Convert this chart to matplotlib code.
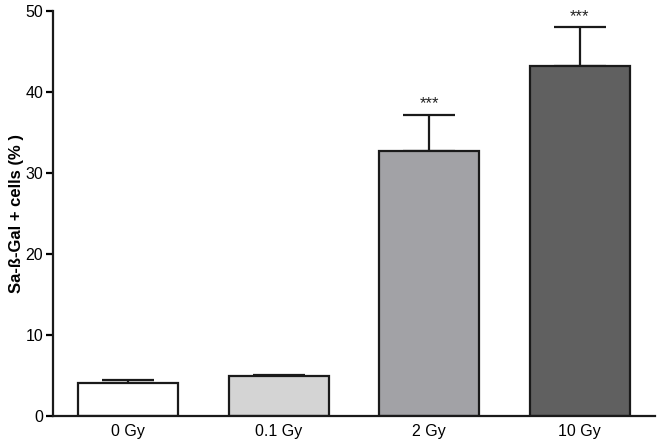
import matplotlib
matplotlib.use("Agg")
import matplotlib.pyplot as plt

categories = ["0 Gy", "0.1 Gy", "2 Gy", "10 Gy"]
values = [4.05, 4.9, 32.7, 43.2]
errors = [0.45, 0.2, 4.5, 4.8]
colors = ["#ffffff", "#d4d4d4", "#a2a2a6", "#606060"]
stars = ["", "", "***", "***"]

plt.rcParams['font.family'] = ['Liberation Sans', 'DejaVu Sans']

fig = plt.figure(figsize=(6.64, 4.46), dpi=100)
ax = fig.add_axes([53/664, 1-416/446, (655-53)/664, (416-11)/446])

x = range(len(categories))
ax.bar(x, values, width=0.667, color=colors, edgecolor="#1a1a1a", linewidth=1.6, zorder=2)
ax.errorbar(x, values, yerr=[[0]*len(errors), errors], fmt="none", ecolor="#1a1a1a",
            elinewidth=1.6, capsize=18.5, capthick=1.6, zorder=1)
for xi, v, e, s in zip(x, values, errors, stars):
    if s:
        ax.text(xi, v + e + 1.35, s, ha="center", va="center", fontsize=12,
                color="#222222")

ax.set_xlim(-0.5, 3.5)
ax.set_ylim(0, 50)
ax.set_yticks([0, 10, 20, 30, 40, 50])
ax.set_xticks(list(x))
ax.set_xticklabels(categories)
ax.tick_params(axis="x", length=0, labelsize=11.5, pad=6)
ax.tick_params(axis="y", length=5, width=1.6, labelsize=11.5, pad=2)
for sp in ["top", "right"]:
    ax.spines[sp].set_visible(False)
for sp in ["left", "bottom"]:
    ax.spines[sp].set_linewidth(1.6)
    ax.spines[sp].set_color("#1a1a1a")
ax.set_ylabel("Sa-ß-Gal + cells (% )", fontsize=12, fontweight="bold")
ax.yaxis.set_label_coords(-(53-24)/602, 0.5)

fig.savefig("out.png", dpi=100)
